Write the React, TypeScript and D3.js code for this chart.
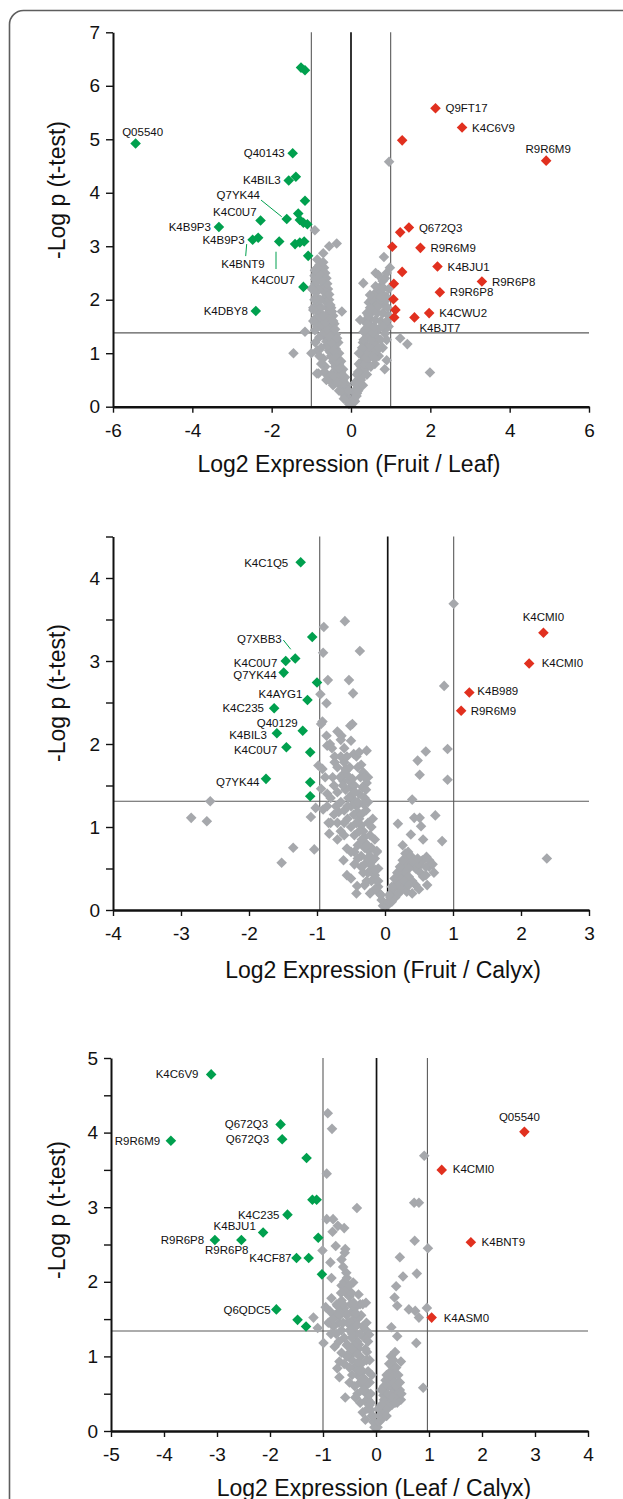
import * as d3 from "d3"
import { useEffect, useRef } from "react"

type Pt = [number, number, string?]
type Lab = { dx: number; dy: number; anchor?: string; leader?: [number, number, number, number] }

// ---------- Fruit / Leaf ----------
const fruitLeafGreen: Pt[] = [
  [-5.43, 4.92, "Q05540"], [-1.26, 6.34], [-1.16, 6.29], [-1.47, 4.74, "Q40143"],
  [-1.57, 4.23, "K4BIL3"], [-1.39, 4.30], [-1.16, 3.85], [-1.62, 3.51, "Q7YK44"],
  [-2.28, 3.48, "K4C0U7"], [-1.33, 3.61], [-1.29, 3.49], [-1.20, 3.44], [-1.10, 3.41],
  [-3.33, 3.36, "K4B9P3"], [-2.48, 3.12, "K4B9P3"], [-2.34, 3.16, "K4BNT9"],
  [-1.81, 3.09, "K4C0U7"], [-1.41, 3.04], [-1.29, 3.07], [-1.18, 3.09], [-1.08, 2.82],
  [-1.20, 2.24], [-2.40, 1.79, "K4DBY8"],
]
const fruitLeafRed: Pt[] = [
  [2.13, 5.58, "Q9FT17"], [2.80, 5.22, "K4C6V9"], [1.29, 4.98], [4.92, 4.60, "R9R6M9"],
  [1.46, 3.35, "Q672Q3"], [1.24, 3.26], [1.75, 2.97, "R9R6M9"], [1.04, 2.99],
  [2.18, 2.62, "K4BJU1"], [1.29, 2.52], [3.30, 2.34, "R9R6P8"], [2.24, 2.14, "R9R6P8"],
  [1.08, 2.30], [1.07, 2.01], [1.12, 1.81], [1.09, 1.67], [1.97, 1.75, "K4CWU2"],
  [1.60, 1.67, "K4BJT7"],
]
const fruitLeafGray: [number, number][] = [
  [-0.05, 0.05], [-0.08, 0.12], [-0.1, 0.2], [-0.12, 0.28], [-0.15, 0.35], [-0.18, 0.42], [-0.2, 0.5],
  [-0.22, 0.58], [-0.25, 0.65], [-0.28, 0.72], [-0.3, 0.8], [-0.33, 0.9], [-0.35, 1.0], [-0.38, 1.08],
  [-0.4, 1.15], [-0.42, 1.25], [-0.45, 1.32], [-0.48, 1.4], [-0.5, 1.5], [-0.52, 1.58], [-0.55, 1.65],
  [-0.58, 1.75], [-0.6, 1.85], [-0.62, 1.95], [-0.65, 2.05], [-0.68, 2.15], [-0.7, 2.25], [-0.72, 2.35],
  [-0.75, 2.45], [-0.78, 2.55], [-0.8, 2.65], [-0.85, 2.75],
  [-0.15, 0.2], [-0.2, 0.3], [-0.25, 0.45], [-0.3, 0.55], [-0.35, 0.65], [-0.4, 0.75], [-0.45, 0.85],
  [-0.5, 0.95], [-0.55, 1.05], [-0.6, 1.15], [-0.65, 1.3], [-0.7, 1.45], [-0.75, 1.6], [-0.8, 1.75],
  [-0.85, 1.9], [-0.88, 2.05], [-0.9, 2.3], [-0.92, 2.45],
  [-0.1, 0.4], [-0.15, 0.55], [-0.2, 0.7], [-0.25, 0.85], [-0.3, 1.0], [-0.32, 1.2], [-0.38, 1.35],
  [-0.42, 1.55], [-0.45, 1.7], [-0.5, 1.85], [-0.55, 2.0], [-0.58, 2.2], [-0.62, 2.4], [-0.68, 2.6],
  [-0.7, 0.9], [-0.65, 0.75], [-0.6, 0.6], [-0.75, 1.1], [-0.8, 1.3], [-0.85, 1.5], [-0.9, 1.65],
  [-0.95, 1.85], [-0.55, 0.5], [-0.45, 0.4],
  [-0.12, 0.15], [-0.18, 0.25], [-0.22, 0.38], [-0.28, 0.5], [-0.32, 0.62], [-0.38, 0.7], [-0.42, 0.82],
  [-0.48, 0.92], [-0.52, 1.02], [-0.58, 1.12], [-0.62, 1.22], [-0.68, 1.38], [-0.72, 1.52], [-0.78, 1.68],
  [-0.82, 1.82], [-0.86, 1.98], [-0.88, 2.15], [-0.9, 2.38], [-0.2, 0.45], [-0.25, 0.6], [-0.3, 0.72],
  [-0.35, 0.85], [-0.4, 0.95], [-0.45, 1.05], [-0.5, 1.2], [-0.55, 1.32], [-0.6, 1.45], [-0.65, 1.58],
  [-0.7, 1.7], [-0.75, 1.85], [-0.78, 2.0], [-0.82, 2.18], [-0.85, 2.35], [-0.88, 2.55], [-0.35, 1.28],
  [-0.4, 1.45], [-0.45, 1.6], [-0.48, 1.78], [-0.52, 1.9], [-0.55, 2.1], [-0.6, 2.3], [-0.65, 2.5],
  [-0.7, 2.7], [-0.75, 2.35], [-0.8, 2.48], [-0.85, 2.6], [-0.92, 2.0], [-0.95, 1.6], [-0.9, 1.2],
  [-0.85, 1.05], [-0.8, 0.95], [-0.75, 0.8], [-0.68, 0.65], [-0.62, 0.5], [-0.5, 0.6], [-0.4, 0.55],
  [-0.35, 0.45], [-0.25, 0.3], [-0.18, 0.15], [-0.06, 0.3],
  [-0.36, 3.05], [-0.55, 3.0], [-0.7, 2.87], [-0.91, 3.3], [-0.23, 1.78], [-0.99, 2.21], [-0.91, 1.43],
  [-0.82, 0.62], [-1.16, 1.4], [-1.45, 1.0], [-0.86, 0.62], [-0.91, 2.55], [-0.95, 2.18], [-0.95, 1.81],
  [-1.0, 1.0], [-0.3, 0.3],
  [0.05, 0.08], [0.08, 0.15], [0.1, 0.25], [0.12, 0.32], [0.15, 0.4], [0.18, 0.5], [0.2, 0.58],
  [0.22, 0.65], [0.25, 0.75], [0.28, 0.85], [0.3, 0.95], [0.33, 1.05], [0.35, 1.15], [0.38, 1.25],
  [0.4, 1.35], [0.42, 1.45], [0.45, 1.55], [0.48, 1.65], [0.5, 1.75], [0.55, 1.85], [0.6, 1.95],
  [0.65, 2.05], [0.7, 2.15], [0.75, 2.25], [0.8, 2.35],
  [0.15, 0.25], [0.2, 0.35], [0.25, 0.5], [0.3, 0.6], [0.35, 0.7], [0.4, 0.8], [0.45, 0.9], [0.5, 1.0],
  [0.55, 1.1], [0.6, 1.2], [0.65, 1.3], [0.7, 1.45], [0.75, 1.6], [0.8, 1.75], [0.85, 1.9], [0.9, 2.05],
  [0.1, 0.45], [0.15, 0.6], [0.2, 0.8], [0.25, 1.0], [0.3, 1.2], [0.32, 1.4], [0.35, 1.6], [0.4, 1.75],
  [0.45, 1.95], [0.6, 0.8], [0.7, 0.95], [0.8, 1.1], [0.9, 1.25], [0.95, 1.5], [0.95, 1.7], [0.85, 0.7],
  [0.1, 0.1], [0.14, 0.2], [0.18, 0.3], [0.22, 0.42], [0.26, 0.55], [0.3, 0.68], [0.34, 0.8], [0.38, 0.92],
  [0.42, 1.02], [0.46, 1.12], [0.5, 1.25], [0.55, 1.38], [0.58, 1.5], [0.62, 1.62], [0.66, 1.75],
  [0.7, 1.88], [0.74, 2.0], [0.78, 2.12], [0.82, 2.22], [0.86, 2.4], [0.9, 2.5], [0.28, 1.1], [0.32, 1.25],
  [0.36, 1.45], [0.4, 1.55], [0.44, 1.7], [0.48, 1.85], [0.52, 2.0], [0.58, 2.1], [0.62, 2.25],
  [0.55, 0.95], [0.65, 1.05], [0.75, 1.25], [0.85, 1.45], [0.9, 1.6], [0.8, 1.5], [0.7, 1.1], [0.6, 0.9],
  [0.5, 0.75], [0.4, 0.6], [0.3, 0.4], [0.95, 2.2], [0.92, 1.85], [0.2, 1.0], [0.18, 0.65],
  [0.83, 2.8], [0.69, 2.46], [0.31, 2.31], [0.48, 2.09], [0.88, 1.99], [1.24, 1.28], [1.42, 1.17],
  [1.99, 0.64], [0.86, 1.37], [0.9, 0.87], [0.23, 1.62], [0.96, 4.58], [0.62, 2.5], [0.75, 2.05], [0.98, 2.6],
]
const fruitLeafXTicks = [-6, -4, -2, 0, 2, 4, 6]
const fruitLeafYTicks = [0, 1, 2, 3, 4, 5, 6, 7]

// ---------- Fruit / Calyx ----------
const fruitCalyxGreen: Pt[] = [
  [-1.24, 4.19, "K4C1Q5"], [-1.07, 3.29], [-1.32, 3.03, "Q7XBB3"], [-1.46, 3.00, "K4C0U7"],
  [-1.49, 2.86, "Q7YK44"], [-1.00, 2.74], [-1.14, 2.53, "K4AYG1"], [-1.63, 2.43, "K4C235"],
  [-1.59, 2.13, "K4BIL3"], [-1.21, 2.16, "Q40129"], [-1.45, 1.96, "K4C0U7"], [-1.10, 1.90],
  [-1.75, 1.58, "Q7YK44"], [-1.10, 1.54], [-1.10, 1.37],
]
const fruitCalyxRed: Pt[] = [
  [2.33, 3.34, "K4CMI0"], [2.12, 2.97, "K4CMI0"], [1.24, 2.62, "K4B989"], [1.12, 2.40, "R9R6M9"],
]
const fruitCalyxGray: [number, number][] = [
  [1.01, 3.69], [0.87, 2.70], [-0.59, 3.48], [-0.90, 3.41], [-0.37, 3.12], [-0.91, 3.10], [-0.84, 2.77],
  [-0.53, 2.77], [-0.95, 2.60], [-0.47, 2.61], [-0.86, 2.49], [-0.92, 2.27], [-0.48, 2.24],
  [-2.85, 1.11], [-2.62, 1.07], [-2.57, 1.31], [-1.52, 0.57], [-1.35, 0.75], [-1.04, 0.73], [-1.09, 1.12],
  [-1.02, 1.23], [-0.98, 1.74], [2.38, 0.62], [0.92, 1.94], [0.92, 1.57], [0.60, 1.91], [0.48, 1.80],
  [0.51, 1.63], [0.40, 1.33], [0.74, 1.14], [0.43, 1.11], [0.51, 1.11], [0.19, 1.04], [0.53, 1.01],
  [0.38, 0.91], [0.56, 0.85], [0.84, 0.83], [0.26, 0.78], [0.61, 0.64], [0.65, 0.52], [0.49, 0.52],
  [-0.51, 2.22], [-0.94, 2.24], [-0.86, 2.10], [-0.64, 2.10], [-0.50, 2.04], [-0.85, 1.98], [-0.81, 2.0],
  [-0.27, 1.92], [-0.74, 1.78], [-0.46, 1.88], [-0.32, 1.66], [-0.57, 1.68], [-0.61, 1.64], [-0.27, 1.53],
  [-0.61, 1.55], [-0.77, 1.60], [-0.94, 1.46], [-0.85, 1.40], [-0.91, 1.21], [-0.68, 1.18], [-0.83, 1.05],
  [-0.82, 0.92], [-0.61, 0.60], [-0.56, 0.42], [-0.41, 0.29], [-0.56, 0.74], [-0.12, 0.71],
  [-0.03, 0.05], [-0.05, 0.12], [-0.08, 0.2], [-0.1, 0.28], [-0.12, 0.35], [-0.15, 0.42], [-0.18, 0.5],
  [-0.2, 0.58], [-0.22, 0.65], [-0.25, 0.72], [-0.28, 0.8], [-0.3, 0.88], [-0.32, 0.95], [-0.35, 1.02],
  [-0.38, 1.1], [-0.4, 1.18], [-0.42, 1.25], [-0.45, 1.32], [-0.48, 1.4], [-0.5, 1.48], [-0.52, 1.55],
  [-0.55, 1.62], [-0.58, 1.7], [-0.6, 1.78], [-0.65, 1.85],
  [-0.15, 0.25], [-0.2, 0.35], [-0.25, 0.45], [-0.3, 0.55], [-0.35, 0.65], [-0.4, 0.78], [-0.45, 0.9],
  [-0.5, 1.0], [-0.55, 1.1], [-0.6, 1.2], [-0.65, 1.3], [-0.7, 1.42], [-0.75, 1.5], [-0.8, 1.35],
  [-0.85, 1.25], [-0.1, 0.5], [-0.15, 0.62], [-0.2, 0.75], [-0.22, 0.9], [-0.25, 1.05], [-0.28, 1.2],
  [-0.3, 1.35], [-0.33, 1.48], [-0.36, 1.6], [-0.4, 1.72], [-0.42, 1.85], [-0.45, 1.5], [-0.38, 1.4],
  [-0.2, 1.0], [-0.25, 1.3], [-0.27, 0.35], [-0.32, 0.45], [-0.5, 0.7], [-0.45, 0.55], [-0.6, 0.9],
  [-0.7, 1.05], [-0.72, 1.25],
  [-0.06, 0.18], [-0.1, 0.35], [-0.14, 0.48], [-0.18, 0.6], [-0.22, 0.55], [-0.26, 0.62], [-0.3, 0.75],
  [-0.34, 0.85], [-0.38, 0.95], [-0.42, 1.05], [-0.46, 1.15], [-0.5, 1.25], [-0.54, 1.35], [-0.58, 1.45],
  [-0.62, 1.5], [-0.66, 1.6], [-0.7, 1.72], [-0.74, 1.85], [-0.78, 1.95], [-0.35, 1.15], [-0.32, 1.28],
  [-0.28, 1.45], [-0.25, 1.6], [-0.4, 1.3], [-0.44, 1.42], [-0.48, 1.58], [-0.52, 1.72], [-0.56, 1.85],
  [-0.6, 1.95], [-0.65, 2.05], [-0.7, 2.15], [-0.55, 1.25], [-0.6, 1.05], [-0.65, 0.95], [-0.7, 0.85],
  [-0.75, 1.15], [-0.8, 1.05], [-0.88, 1.6], [-0.92, 1.7], [-0.45, 0.7], [-0.4, 0.62], [-0.35, 0.52],
  [-0.15, 0.85], [-0.12, 0.7], [-0.18, 1.1], [-0.3, 1.6], [-0.35, 1.75], [-0.38, 1.9], [-0.3, 0.3],
  [-0.22, 0.2], [-0.5, 0.38], [-0.42, 0.2],
  [0.03, 0.05], [0.05, 0.1], [0.08, 0.15], [0.1, 0.2], [0.12, 0.25], [0.15, 0.3], [0.18, 0.35],
  [0.2, 0.4], [0.22, 0.45], [0.25, 0.5], [0.28, 0.55], [0.3, 0.6], [0.35, 0.62], [0.4, 0.55], [0.45, 0.5],
  [0.2, 0.3], [0.25, 0.38], [0.3, 0.45], [0.35, 0.5], [0.15, 0.15], [0.1, 0.1], [0.3, 0.3], [0.4, 0.35],
  [0.5, 0.55], [0.55, 0.6], [0.6, 0.52], [0.65, 0.6], [0.45, 0.3], [0.25, 0.25], [0.35, 0.4],
  [0.06, 0.18], [0.1, 0.28], [0.14, 0.38], [0.18, 0.45], [0.22, 0.52], [0.26, 0.6], [0.3, 0.68],
  [0.34, 0.7], [0.38, 0.65], [0.42, 0.6], [0.48, 0.62], [0.52, 0.45], [0.56, 0.4], [0.6, 0.42],
  [0.62, 0.3], [0.5, 0.25], [0.4, 0.2], [0.2, 0.2], [0.28, 0.35], [0.32, 0.22], [0.7, 0.55], [0.72, 0.45],
  [0.35, 0.3],
]
const fruitCalyxXTicks = [-4, -3, -2, -1, 0, 1, 2, 3]
const fruitCalyxYTicks = [0, 0.5, 1, 1.5, 2, 2.5, 3, 3.5, 4, 4.5]

// ---------- Leaf / Calyx ----------
const leafCalyxGreen: Pt[] = [
  [-3.11, 4.78, "K4C6V9"], [-1.80, 4.11, "Q672Q3"], [-1.77, 3.91, "Q672Q3"], [-3.87, 3.89, "R9R6M9"],
  [-1.31, 3.66], [-1.20, 3.10], [-1.12, 3.10], [-1.67, 2.90, "K4C235"], [-2.13, 2.66, "K4BJU1"],
  [-3.04, 2.56, "R9R6P8"], [-2.54, 2.56, "R9R6P8"], [-1.09, 2.59], [-1.50, 2.32, "K4CF87"],
  [-1.27, 2.32], [-1.02, 2.10], [-1.88, 1.63, "Q6QDC5"], [-1.48, 1.49], [-1.32, 1.40],
]
const leafCalyxRed: Pt[] = [
  [2.80, 4.01, "Q05540"], [1.24, 3.50, "K4CMI0"], [1.79, 2.53, "K4BNT9"], [1.05, 1.52, "K4ASM0"],
]
const leafCalyxGray: [number, number][] = [
  [-0.91, 4.26], [-0.83, 4.05], [0.91, 3.69], [-0.93, 3.45], [0.72, 3.06], [0.81, 3.06], [-0.36, 2.99],
  [-0.93, 2.84], [-0.81, 2.84], [-0.72, 2.75], [-0.60, 2.72], [-0.82, 2.67], [0.73, 2.55], [0.98, 2.45],
  [-0.76, 2.48], [-0.58, 2.44], [-0.59, 2.39], [-1.01, 2.42], [-0.86, 2.26], [0.45, 2.33], [0.51, 2.07],
  [0.77, 2.11], [-0.56, 2.12], [-0.84, 2.05], [-0.65, 1.95], [-0.43, 1.99], [0.38, 1.94], [-0.84, 1.78],
  [-0.58, 1.86], [-0.52, 1.84], [-0.33, 1.83], [-0.19, 1.72], [0.35, 1.79], [0.40, 1.68], [0.62, 1.63],
  [0.74, 1.61], [0.81, 1.52], [0.96, 1.65], [-0.95, 1.66], [-0.73, 1.68], [-1.18, 1.52], [-1.10, 1.38],
  [-0.99, 1.18], [-0.78, 1.13], [-0.54, 1.16], [0.29, 1.39], [0.40, 1.27], [0.76, 1.18], [0.36, 1.06],
  [0.47, 0.93], [-0.69, 0.93], [-0.73, 0.84], [-0.69, 0.72], [-0.47, 1.02], [-0.32, 1.16], [-0.17, 1.06],
  [0.89, 0.58], [0.40, 0.38], [0.47, 0.42], [-0.39, 0.45], [-0.50, 0.65], [-0.58, 0.45], [-0.17, 1.34],
  [-0.13, 1.29], [0.32, 0.58], [0.29, 0.68],
  [-0.03, 0.05], [-0.05, 0.12], [-0.08, 0.2], [-0.1, 0.28], [-0.12, 0.35], [-0.15, 0.42], [-0.18, 0.5],
  [-0.2, 0.6], [-0.22, 0.7], [-0.25, 0.8], [-0.28, 0.9], [-0.3, 1.0], [-0.33, 1.1], [-0.35, 1.2],
  [-0.38, 1.3], [-0.4, 1.4], [-0.42, 1.5], [-0.45, 1.6], [-0.48, 1.7], [-0.5, 1.8], [-0.55, 1.9],
  [-0.6, 2.0], [-0.62, 2.2], [-0.65, 2.3],
  [-0.15, 0.3], [-0.2, 0.4], [-0.25, 0.55], [-0.3, 0.65], [-0.35, 0.75], [-0.4, 0.85], [-0.45, 0.95],
  [-0.5, 1.05], [-0.55, 1.15], [-0.6, 1.25], [-0.65, 1.35], [-0.7, 1.45], [-0.75, 1.55], [-0.8, 1.4],
  [-0.85, 1.3], [-0.9, 1.45], [-0.1, 0.5], [-0.12, 0.65], [-0.15, 0.8], [-0.18, 0.95], [-0.2, 1.1],
  [-0.22, 1.25], [-0.25, 1.4], [-0.28, 1.55], [-0.3, 1.7], [-0.35, 1.5], [-0.4, 1.65], [-0.45, 1.3],
  [-0.5, 1.45], [-0.55, 1.55], [-0.6, 1.65], [-0.65, 1.75],
  [-0.06, 0.2], [-0.1, 0.38], [-0.14, 0.5], [-0.18, 0.62], [-0.22, 0.55], [-0.26, 0.68], [-0.3, 0.8],
  [-0.34, 0.92], [-0.38, 1.05], [-0.42, 1.15], [-0.46, 1.25], [-0.5, 1.35], [-0.54, 1.45], [-0.58, 1.6],
  [-0.62, 1.7], [-0.66, 1.85], [-0.7, 1.6], [-0.74, 1.7], [-0.78, 1.55], [-0.82, 1.5], [-0.86, 1.6],
  [-0.3, 1.3], [-0.35, 1.42], [-0.38, 1.58], [-0.42, 1.72], [-0.46, 1.85], [-0.5, 1.95], [-0.55, 2.05],
  [-0.45, 1.1], [-0.55, 1.0], [-0.6, 0.9], [-0.65, 1.05], [-0.7, 1.2], [-0.75, 1.3], [-0.4, 0.6],
  [-0.45, 0.75], [-0.5, 0.85], [-0.35, 0.5], [-0.3, 0.38], [-0.25, 0.25], [-0.2, 0.15], [-0.15, 1.2],
  [-0.12, 0.95], [-0.08, 0.75], [-0.18, 1.45], [-0.25, 1.7], [-0.62, 1.45], [-0.68, 1.55],
  [0.03, 0.05], [0.05, 0.12], [0.08, 0.2], [0.1, 0.28], [0.12, 0.35], [0.15, 0.42], [0.18, 0.5],
  [0.2, 0.58], [0.22, 0.65], [0.25, 0.72], [0.28, 0.8], [0.3, 0.6], [0.35, 0.55], [0.38, 0.48],
  [0.4, 0.4], [0.15, 0.25], [0.2, 0.35], [0.25, 0.45], [0.3, 0.5], [0.1, 0.15], [0.05, 0.3],
  [0.12, 0.55], [0.18, 0.68], [0.3, 0.88], [0.35, 0.75], [0.4, 0.65], [0.45, 0.55], [0.3, 0.35],
  [0.06, 0.2], [0.1, 0.35], [0.14, 0.48], [0.18, 0.4], [0.22, 0.5], [0.26, 0.62], [0.3, 0.72],
  [0.34, 0.65], [0.38, 0.6], [0.42, 0.5], [0.22, 0.3], [0.26, 0.38], [0.32, 0.45], [0.36, 0.38],
  [0.15, 0.6], [0.2, 0.75], [0.25, 0.9], [0.28, 1.0], [0.33, 0.95], [0.38, 0.85], [0.42, 0.75],
  [0.45, 0.65], [0.48, 0.5], [0.2, 0.2], [0.1, 0.55],
]
const leafCalyxXTicks = [-5, -4, -3, -2, -1, 0, 1, 2, 3, 4]
const leafCalyxYTicks = [0, 0.5, 1, 1.5, 2, 2.5, 3, 3.5, 4, 4.5, 5]

const GREEN = "#00a04e"
const RED = "#e1301f"
const GRAY = "#a6a8ac"
const FONT = "'Liberation Sans', Arial, sans-serif"

// layout of each panel (pixels), label nudges keyed by g<i>/r<i>
const panels = [
  {
    green: fruitLeafGreen, red: fruitLeafRed, gray: fruitLeafGray,
    xTicks: fruitLeafXTicks, yTicks: fruitLeafYTicks,
    xDomain: [-6, 6], yDomain: [0, 7], left: 113, right: 589, top: 32.3, bottom: 406.7,
    vlines: [-1, 0, 1], hline: 1.38, xTitle: "Log2 Expression (Fruit / Leaf)", titleY: 471.5, yTitleY: 190,
    labels: {
      g0: { dx: 7, dy: -8, anchor: "middle" },
      g7: { dx: -26.7, dy: -19.7, leader: [-25.7, -18.9, -5, -2.2] },
      g8: { dx: -4, dy: -4.3 },
      g15: { dx: -15.2, dy: 30, anchor: "middle", leader: [-11.5, 6.4, -12.5, 18.4] },
      g16: { dx: -6, dy: 43, anchor: "middle", leader: [-3.2, 10.3, -3.2, 27.6] },
      r3: { dx: 2, dy: -8, anchor: "middle" },
      r17: { dx: 5, dy: 14.5, anchor: "start" },
    } as Record<string, Lab>,
  },
  {
    green: fruitCalyxGreen, red: fruitCalyxRed, gray: fruitCalyxGray,
    xTicks: fruitCalyxXTicks, yTicks: fruitCalyxYTicks,
    xDomain: [-4, 3], yDomain: [0, 4.5], left: 113, right: 589, top: 536.5, bottom: 910,
    vlines: [-0.96, 0.04, 1.01], hline: 1.31, xTitle: "Log2 Expression (Fruit / Calyx)", titleY: 978, yTitleY: 693,
    labels: {
      g0: { dx: -12.4, dy: 4.3 },
      g2: { dx: -13.5, dy: -15.2, leader: [-11.9, -18.5, -4.5, -9.2] },
      g3: { dx: -8.4, dy: 5.5 },
      g4: { dx: -7, dy: 6 },
      g6: { dx: -5, dy: -2 },
      g7: { dx: -10.2, dy: 3.7 },
      g8: { dx: -10, dy: 6 },
      g9: { dx: -5, dy: -4 },
      g10: { dx: -9, dy: 7 },
      g12: { dx: -6.5, dy: 7.5 },
      r0: { dx: 0, dy: -12, anchor: "middle" },
      r1: { dx: 12.5, dy: 4 },
      r2: { dx: 8, dy: 2 },
      r3: { dx: 9.5, dy: 4.5 },
    } as Record<string, Lab>,
  },
  {
    green: leafCalyxGreen, red: leafCalyxRed, gray: leafCalyxGray,
    xTicks: leafCalyxXTicks, yTicks: leafCalyxYTicks,
    xDomain: [-5, 4], yDomain: [0, 5], left: 111, right: 588, top: 1058, bottom: 1431,
    vlines: [-1, 0.01, 0.97], hline: 1.34, xTitle: "Log2 Expression (Leaf / Calyx)", titleY: 1495.5, yTitleY: 1210,
    labels: {
      g0: { dx: -12.7, dy: 4 },
      g1: { dx: -12.4, dy: 4 },
      g2: { dx: -13, dy: 4 },
      g3: { dx: -10.7, dy: 4 },
      g7: { dx: -8, dy: 4 },
      g8: { dx: -7.3, dy: -2.7 },
      g9: { dx: -10.7, dy: 4 },
      g10: { dx: -14.6, dy: 14, anchor: "middle" },
      g12: { dx: -5, dy: 4.5 },
      g15: { dx: -5.6, dy: 5 },
      r0: { dx: -5, dy: -11, anchor: "middle" },
      r1: { dx: 11, dy: 3 },
      r2: { dx: 10.7, dy: 4 },
      r3: { dx: 12, dy: 4 },
    } as Record<string, Lab>,
  },
]

export default function App() {
  const ref = useRef<SVGSVGElement>(null)

  useEffect(() => {
    const svg = d3.select(ref.current)
    svg.selectAll("*").remove()

    // figure frame
    svg.append("rect")
      .attr("x", 9.5).attr("y", 10.5).attr("width", 720).attr("height", 1600).attr("rx", 14)
      .attr("fill", "none").attr("stroke", "#5e5e5e").attr("stroke-width", 1.6)

    const diamond = d3.symbol().type(d3.symbolSquare).size(56)()

    panels.forEach(p => {
      const x = d3.scaleLinear().domain(p.xDomain).range([p.left, p.right])
      const y = d3.scaleLinear().domain(p.yDomain).range([p.bottom, p.top])
      const g = svg.append("g")

      // significance threshold and fold change lines
      g.append("line")
        .attr("x1", p.left).attr("x2", p.right).attr("y1", y(p.hline)).attr("y2", y(p.hline))
        .attr("stroke", "#5a5a5a").attr("stroke-width", 1.1)
      p.vlines.forEach((v, i) => {
        g.append("line")
          .attr("x1", x(v)).attr("x2", x(v)).attr("y1", p.top).attr("y2", p.bottom)
          .attr("stroke", i === 1 ? "#111" : "#5a5a5a").attr("stroke-width", i === 1 ? 1.7 : 1.1)
      })

      const drawPts = (pts: [number, number, string?][], color: string) => {
        g.append("g").selectAll("path").data(pts).enter().append("path")
          .attr("d", diamond)
          .attr("transform", d => `translate(${x(d[0])},${y(d[1])}) rotate(45)`)
          .attr("fill", color)
      }
      drawPts(p.gray, GRAY)
      drawPts(p.green, GREEN)
      drawPts(p.red, RED)

      // axes
      const yAxis = d3.axisLeft(y).tickValues(p.yTicks)
        .tickFormat(d => (Number.isInteger(+d) ? String(d) : ""))
        .tickSize(7).tickPadding(6).tickSizeOuter(0)
      const ya = g.append("g").attr("transform", `translate(${p.left},0)`).call(yAxis)
      const xAxis = d3.axisBottom(x).tickValues(p.xTicks).tickFormat(d => String(d))
        .tickSize(6).tickPadding(11).tickSizeOuter(0)
      const xa = g.append("g").attr("transform", `translate(0,${p.bottom})`).call(xAxis)
      ;[ya, xa].forEach(a => {
        a.attr("font-family", FONT).attr("font-size", 19)
        a.selectAll("text").attr("fill", "#111")
        a.selectAll(".tick line").attr("stroke", "#111").attr("stroke-width", 1.4)
      })
      ya.select(".domain").attr("stroke", "#111").attr("stroke-width", 2)
      xa.select(".domain").attr("stroke", "#111").attr("stroke-width", 2.6)

      // titles: x title sits under the zero line
      g.append("text")
        .attr("x", x(0) - 2).attr("y", p.titleY)
        .attr("text-anchor", "middle").attr("font-family", FONT).attr("font-size", 23).attr("fill", "#111")
        .text(p.xTitle)
      g.append("text")
        .attr("transform", `translate(65,${p.yTitleY}) rotate(-90)`)
        .attr("text-anchor", "middle").attr("font-family", FONT).attr("font-size", 23).attr("fill", "#111")
        .text("-Log p (t-test)")

      // point labels
      const drawLabels = (pts: [number, number, string?][], key: string, def: Lab) => {
        pts.forEach((d, i) => {
          if (!d[2]) return
          const lab = p.labels[key + i] || def
          const px = x(d[0]), py = y(d[1])
          if (lab.leader) {
            g.append("line")
              .attr("x1", px + lab.leader[0]).attr("y1", py + lab.leader[1])
              .attr("x2", px + lab.leader[2]).attr("y2", py + lab.leader[3])
              .attr("stroke", GREEN).attr("stroke-width", 1)
          }
          g.append("text")
            .attr("x", px + lab.dx).attr("y", py + lab.dy)
            .attr("text-anchor", lab.anchor || def.anchor || "start")
            .attr("font-family", FONT).attr("font-size", 11.5).attr("fill", "#111")
            .text(d[2] as string)
        })
      }
      drawLabels(p.green, "g", { dx: -8, dy: 4, anchor: "end" })
      drawLabels(p.red, "r", { dx: 10, dy: 4, anchor: "start" })
    })
  }, [])

  return (
    <svg ref={ref} width={623} height={1499}
      style={{ position: "absolute", left: 0, top: 0, background: "#fff" }} />
  )
}
